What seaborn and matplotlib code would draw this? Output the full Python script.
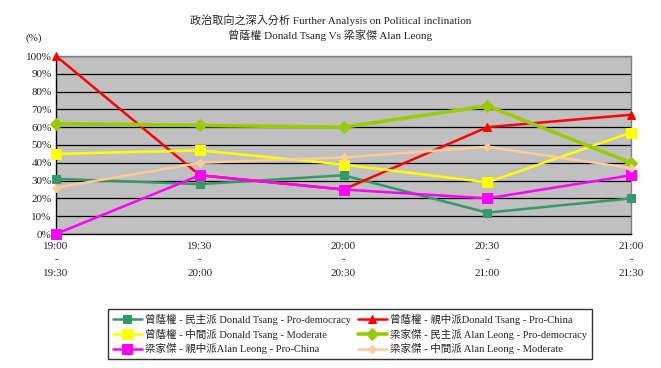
import numpy as np
import pandas as pd
import matplotlib
matplotlib.use("Agg")
import matplotlib.pyplot as plt
import seaborn as sns

LABEL_FONT_SIZE = 8
LEGEND_FONT_SIZE = 7.6

time_slots = ["19:00\n-\n19:30", "19:30\n-\n20:00", "20:00\n-\n20:30", "20:30\n-\n21:00", "21:00\n-\n21:30"]

tsang_pro_democracy = [31, 28, 33, 12, 20]
tsang_pro_china = [100, 33, 25, 60, 67]
tsang_moderate = [45, 47, 39, 29, 57]
leong_pro_democracy = [62, 61, 60, 72, 40]
leong_pro_china = [0, 33, 25, 20, 33]
leong_moderate = [26, 40, 43, 49, 37]

series_names = [
    "曾蔭權 - 民主派 Donald Tsang - Pro-democracy",
    "曾蔭權 - 親中派Donald Tsang - Pro-China",
    "曾蔭權 - 中間派 Donald Tsang - Moderate",
    "梁家傑 - 民主派 Alan Leong - Pro-democracy",
    "梁家傑 - 親中派Alan Leong - Pro-China",
    "梁家傑 - 中間派 Alan Leong - Moderate",
]
series_values = [tsang_pro_democracy, tsang_pro_china, tsang_moderate,
                 leong_pro_democracy, leong_pro_china, leong_moderate]

# colour, marker, marker size, line width
styles = [
    ("#339966", "s", 6, 1.8),
    ("#FF0000", "^", 6, 1.8),
    ("#FFFF00", "s", 7, 1.8),
    ("#99CC00", "D", 6, 2.6),
    ("#FF00FF", "s", 7, 1.8),
    ("#FFCC99", "D", 4, 1.8),
]

sns.set_style("white")
plt.rcParams['font.family'] = ['Liberation Serif', 'Noto Sans CJK TC']
plt.rcParams['axes.unicode_minus'] = False

fig = plt.figure(figsize=(6.61, 3.68), dpi=100)
ax = fig.add_axes([56 / 661, 1 - 234 / 368, (631 - 56) / 661, (234 - 56) / 368])
ax.set_facecolor("#C0C0C0")

x_pos = np.arange(len(time_slots))
for name, values, (color, marker, ms, lw) in zip(series_names, series_values, styles):
    df = pd.DataFrame({"slot": x_pos, "pct": values})
    sns.lineplot(data=df, x="slot", y="pct", ax=ax, color=color, marker=marker,
                 markersize=ms, markeredgecolor=color, linewidth=lw, label=name,
                 clip_on=False, zorder=3)

ax.set_xlim(0, len(time_slots) - 1)
ax.set_ylim(0, 100)
ax.set_yticks(np.arange(0, 101, 10))
ax.set_yticklabels([f"{v}%" for v in range(0, 101, 10)], fontsize=LABEL_FONT_SIZE)
ax.set_xticks(x_pos)
ax.set_xticklabels(time_slots, fontsize=LABEL_FONT_SIZE, linespacing=1.6)
ax.grid(axis="y", color="black", linewidth=0.9)
ax.set_axisbelow(True)
ax.set_xlabel("")
ax.set_ylabel("")
ax.tick_params(axis="x", length=3, width=0.8, color="black", direction="in", pad=6)
ax.tick_params(axis="y", length=0, pad=3)
for side in ["top", "right"]:
    ax.spines[side].set_color("#808080")
for side in ["left", "bottom"]:
    ax.spines[side].set_color("black")
for sp in ax.spines.values():
    sp.set_linewidth(1)

fig.text(0.5, 1 - 20 / 368, "政治取向之深入分析 Further Analysis on Political inclination",
         ha="center", va="center", fontsize=LABEL_FONT_SIZE)
fig.text(0.5, 1 - 35 / 368, "曾蔭權 Donald Tsang Vs 梁家傑 Alan Leong",
         ha="center", va="center", fontsize=LABEL_FONT_SIZE)
fig.text(25 / 661, 1 - 38 / 368, "(%)", ha="left", va="center", fontsize=LABEL_FONT_SIZE)

# legend reads row by row in the reference, matplotlib fills columns first
handles, labels = ax.get_legend_handles_labels()
order = [0, 2, 4, 1, 3, 5]
leg = ax.legend([handles[i] for i in order], [labels[i] for i in order],
                loc="center", bbox_to_anchor=(350 / 661, 1 - 334 / 368),
                bbox_transform=fig.transFigure, ncol=2, fontsize=LEGEND_FONT_SIZE,
                frameon=True, fancybox=False, edgecolor="black", borderpad=0.4,
                handlelength=2.8, columnspacing=0.6, labelspacing=0.35, handletextpad=0.3)
leg.get_frame().set_linewidth(1)

fig.savefig("out.png", dpi=100)
